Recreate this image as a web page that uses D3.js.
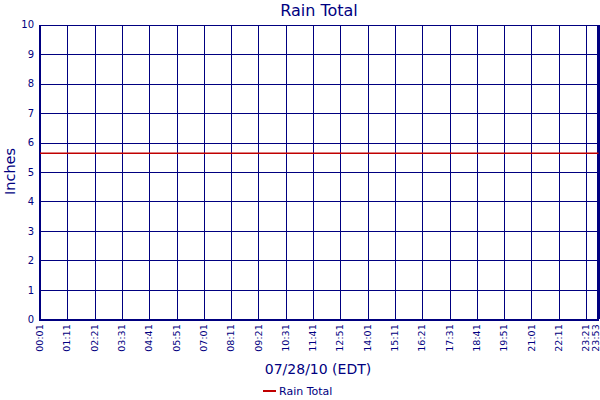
<!DOCTYPE html>
<html lang="en">
<head>
    <meta charset="UTF-8">
    <title>Rain Total</title>
    <script src="https://cdn.jsdelivr.net/npm/d3@7"></script>
    <style>
        body { margin: 0; background: #fff; }
        svg text { font-family: "DejaVu Sans", Verdana, sans-serif; fill: #000080; }
    </style>
</head>
<body>
<svg id="chart" width="600" height="400"></svg>
<script>
    // tick labels on the time axis (every 70 min, plus the last reading)
    var tickTimes = ["00:01", "01:11", "02:21", "03:31", "04:41", "05:51", "07:01", "08:11",
        "09:21", "10:31", "11:41", "12:51", "14:01", "15:11", "16:21", "17:31",
        "18:41", "19:51", "21:01", "22:11", "23:21", "23:53"];
    // readings
    var readTimes = ["00:01", "02:21", "04:41", "07:01", "09:21", "11:41", "14:01",
        "16:21", "18:41", "21:01", "23:21", "23:53"];
    var rainTotal = [5.64, 5.64, 5.64, 5.64, 5.64, 5.64, 5.64, 5.64, 5.64, 5.64, 5.64, 5.64];
    var yTicks = [0, 1, 2, 3, 4, 5, 6, 7, 8, 9, 10];

    var navy = "#000080";
    var red = "#c00000";

    var parse = d3.timeParse("%Y-%m-%d %H:%M");
    function toDate(t) { return parse("2010-07-28 " + t); }

    var x0 = 40, x1 = 598.5, y0 = 319.3, y1 = 24.7;

    var x = d3.scaleTime()
        .domain([toDate(tickTimes[0]), toDate(tickTimes[tickTimes.length - 1])])
        .range([x0, x1]);
    var y = d3.scaleLinear().domain([0, 10]).range([y0, y1]);

    var svg = d3.select("#chart");

    // grid
    var grid = svg.append("g").attr("shape-rendering", "crispEdges");
    grid.selectAll("line.h").data(yTicks).enter().append("line")
        .attr("x1", x0).attr("x2", x1)
        .attr("y1", function (d) { return Math.round(y(d)) + 0.5; })
        .attr("y2", function (d) { return Math.round(y(d)) + 0.5; })
        .style("stroke", navy).style("stroke-width", 1);
    grid.selectAll("line.v").data(tickTimes).enter().append("line")
        .attr("x1", function (d) { return Math.round(x(toDate(d))) + 0.5; })
        .attr("x2", function (d) { return Math.round(x(toDate(d))) + 0.5; })
        .attr("y1", y1).attr("y2", y0)
        .style("stroke", navy).style("stroke-width", 1);

    // frame: thick left, right and bottom edges
    grid.append("line").attr("x1", 40).attr("x2", 40).attr("y1", y1).attr("y2", y0 + 1)
        .style("stroke", navy).style("stroke-width", 2);
    grid.append("line").attr("x1", 598).attr("x2", 598).attr("y1", y1).attr("y2", y0 + 1)
        .style("stroke", navy).style("stroke-width", 2);
    grid.append("line").attr("x1", 39).attr("x2", 599).attr("y1", 319.5).attr("y2", 319.5)
        .style("stroke", navy).style("stroke-width", 2);

    // series
    var line = d3.line()
        .x(function (d, i) { return x(toDate(readTimes[i])); })
        .y(function (d) { return y(d); });
    svg.append("path").datum(rainTotal)
        .attr("d", line)
        .attr("fill", "none")
        .style("stroke", red).style("stroke-width", 1.5);

    // y axis labels
    var yAxis = d3.axisLeft(y).tickValues(yTicks).tickSize(0).tickPadding(6);
    var ga = svg.append("g").attr("transform", "translate(" + x0 + ",0)").call(yAxis);
    ga.select(".domain").remove();
    ga.selectAll("text").style("font-size", "10px").style("fill", navy).attr("font-family", null);

    // x axis labels (vertical)
    var xAxis = d3.axisBottom(x).tickValues(tickTimes.map(toDate))
        .tickFormat(d3.timeFormat("%H:%M")).tickSize(0);
    var gx = svg.append("g").attr("transform", "translate(0," + y0 + ")").call(xAxis);
    gx.select(".domain").remove();
    gx.selectAll("text")
        .style("font-size", "9.5px").style("fill", navy).attr("font-family", null)
        .attr("text-anchor", "end")
        .attr("dy", function (d, i) { return i == tickTimes.length - 1 ? "-0.05em" : "0.28em"; })
        .attr("x", -5).attr("y", 0)
        .attr("transform", "rotate(-90)");

    // titles
    svg.append("text").attr("x", 319).attr("y", 16).attr("text-anchor", "middle")
        .style("font-size", "16px").text("Rain Total");
    svg.append("text").attr("transform", "translate(15,171.5) rotate(-90)")
        .attr("text-anchor", "middle").style("font-size", "14.5px").text("Inches");
    svg.append("text").attr("x", 318).attr("y", 374).attr("text-anchor", "middle")
        .style("font-size", "14px").text("07/28/10 (EDT)");

    // legend
    svg.append("line").attr("x1", 263).attr("x2", 276).attr("y1", 391).attr("y2", 391)
        .style("stroke", red).style("stroke-width", 2);
    svg.append("text").attr("x", 279).attr("y", 395)
        .style("font-size", "11px").text("Rain Total");
</script>
</body>
</html>
